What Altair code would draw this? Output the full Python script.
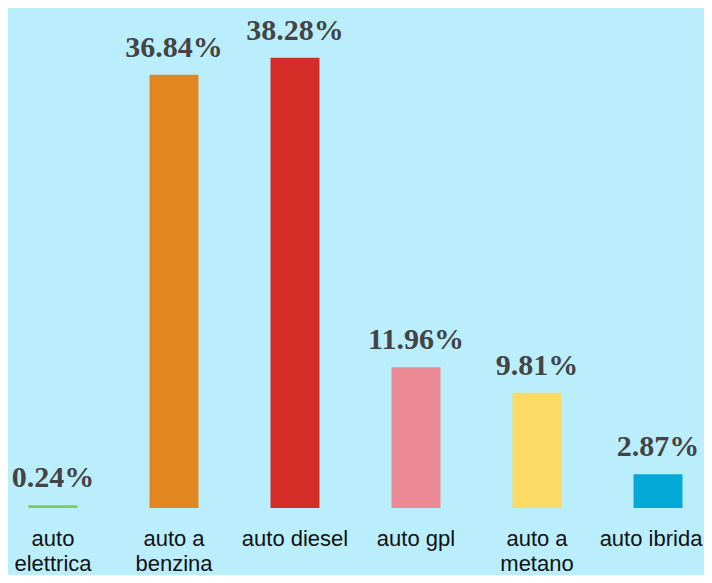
import altair as alt
import pandas as pd

categories = ["auto|elettrica", "auto a|benzina", "auto diesel", "auto gpl", "auto a|metano", "auto ibrida"]
values = [0.24, 36.84, 38.28, 11.96, 9.81, 2.87]
labels = ["0.24%", "36.84%", "38.28%", "11.96%", "9.81%", "2.87%"]
colors = ["#7CCB5F", "#E2861F", "#D42D27", "#EC8B96", "#FBDA66", "#02A9D7"]

df = pd.DataFrame({"cat": categories, "value": values, "label": labels, "color": colors})

x = alt.X(
    "cat:N",
    sort=categories,
    scale=alt.Scale(range=[-15.5, 710.5], paddingInner=0.595, paddingOuter=0.2975),
    axis=alt.Axis(
        title=None,
        labelExpr="split(datum.value, '|')",
        labelAngle=0,
        domain=False,
        ticks=False,
        labelFont="Liberation Sans",
        labelFontSize=22,
        labelColor="#111111",
        labelPadding=20,
        labelBaseline="top",
        labelLineHeight=25,
        labelFlush=False,
        labelOverlap=False,
        labelLimit=0,
        labelOffset={"condition": {"test": "datum.value == 'auto ibrida'", "value": -7}, "value": 0},
    ),
)
y = alt.Y("value:Q", scale=alt.Scale(domain=[0, 40], range=[500, 29.6]), axis=None)

base = alt.Chart(df)
bars = base.mark_bar().encode(x=x, y=y, color=alt.Color("color:N", scale=None))
text = base.mark_text(
    baseline="alphabetic", dy=-18, font="Liberation Serif", fontWeight="bold",
    fontSize=30, color="#444444"
).encode(x=x, y=y, text="label:N")

chart = (
    (bars + text)
    .properties(
        width=696, height=500, autosize="none",
        padding={"left": 0, "top": 0, "right": 0, "bottom": 67},
        background="#BAEEFC",
    )
    .configure_view(strokeWidth=0)
)

chart.save("out.html", embed_options={"renderer": "svg", "actions": False})
